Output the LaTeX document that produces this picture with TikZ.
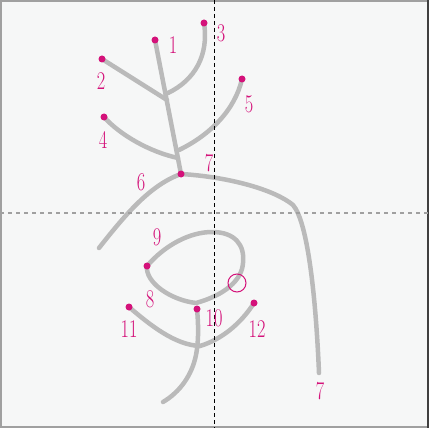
\documentclass[tikz,border=0pt]{standalone}
\definecolor{bgcol}{RGB}{246,247,247}
\definecolor{strokegrey}{RGB}{186,186,186}
\definecolor{mag}{RGB}{212,18,122}
\definecolor{framegrey}{RGB}{160,160,160}
\begin{document}
\begin{tikzpicture}[x=1pt,y=-1pt,
  stroke/.style={line width=4.5pt, color=strokegrey, line cap=round, line join=round},
  dot/.style={circle, fill=mag, inner sep=0pt, minimum size=7pt},
  lab/.style={text=mag, font=\fontsize{25.5}{25.5}\selectfont, xscale=0.72, inner sep=0pt},
  guide/.style={line width=1pt}]
\fill[bgcol] (0,0) rectangle (429,428);
\useasboundingbox (0,0) rectangle (429,428);
\draw[framegrey, line width=2pt] (0,1) -- (428,1);
\draw[framegrey, line width=2pt] (1,0) -- (1,428);
\draw[framegrey, line width=2pt] (0,427) -- (428,427);
\draw[black!75, line width=1.5pt] (428.2,0) -- (428.2,428);
% named points
\coordinate (d1) at (155,40);
\coordinate (d2) at (102,59);
\coordinate (d3) at (204,23);
\coordinate (d4) at (104,117);
\coordinate (d5) at (242,79);
\coordinate (d6) at (181,174);
\coordinate (d9) at (147,266);
\coordinate (d10) at (197,309);
\coordinate (d11) at (129,307);
\coordinate (d12) at (254,303);
\coordinate (j1) at (167,100);
\coordinate (j3) at (168,93);
\coordinate (j4) at (178,158);
\coordinate (j5) at (179,150);
\coordinate (e6) at (99,248);
\coordinate (e7) at (319,373);
\coordinate (e10) at (163,402);
\coordinate (b11) at (200,346);
% strokes
\draw[stroke] (d1) -- (d6);
\draw[stroke] (d2) -- (j1);
\draw[stroke] (d3) .. controls (209,55) and (195,80) .. (j3);
\draw[stroke] (d4) .. controls (120,135) and (150,152) .. (j4);
\draw[stroke] (d5) .. controls (235,110) and (210,135) .. (j5);
\draw[stroke] (d6) .. controls (150,185) and (125,215) .. (e6);
\draw[stroke] (d6) .. controls (230,177) and (275,190) .. (293,205) .. controls (308,222) and (316,300) .. (e7);
\draw[stroke] (d9) .. controls (165,245) and (190,232) .. (212,232) .. controls (235,232) and (245,245) .. (243,263) .. controls (242,280) and (225,295) .. (196,303) .. controls (170,300) and (145,282) .. (d9);
\draw[stroke] (d10) .. controls (199,330) and (198,345) .. (196,355) .. controls (192,375) and (180,392) .. (e10);
\draw[stroke] (d11) .. controls (150,325) and (175,345) .. (b11);
\draw[stroke] (d12) .. controls (240,325) and (220,340) .. (b11);
% guides
\draw[guide, black, dash pattern=on 4pt off 3pt] (214,0) -- (214,428);
\draw[guide, framegrey, line width=1.3pt, dash pattern=on 4pt off 4pt] (0,213) -- (429,213);
% dots
\foreach \p in {d1,d2,d3,d4,d5,d6,d9,d10,d11,d12} \node[dot] (n\p) at (\p) {};
\node[draw=mag, line width=1pt, circle, minimum size=18pt, inner sep=0pt] (mk) at (237,283) {};
% labels
\node[lab] (l1) at (173,45) {1};
\node[lab] (l2) at (101,81) {2};
\node[lab] (l3) at (221,33) {3};
\node[lab] (l4) at (103,140) {4};
\node[lab] (l5) at (249,104) {5};
\node[lab] (l6) at (141,182) {6};
\node[lab] (l7a) at (209,163) {7};
\node[lab] (l9) at (157,237) {9};
\node[lab] (l8) at (150,299) {8};
\node[lab] (l10) at (214,318) {10};
\node[lab] (l11) at (129,329) {11};
\node[lab] (l12) at (257,329) {12};
\node[lab] (l7b) at (320,391) {7};
\end{tikzpicture}
\end{document}
